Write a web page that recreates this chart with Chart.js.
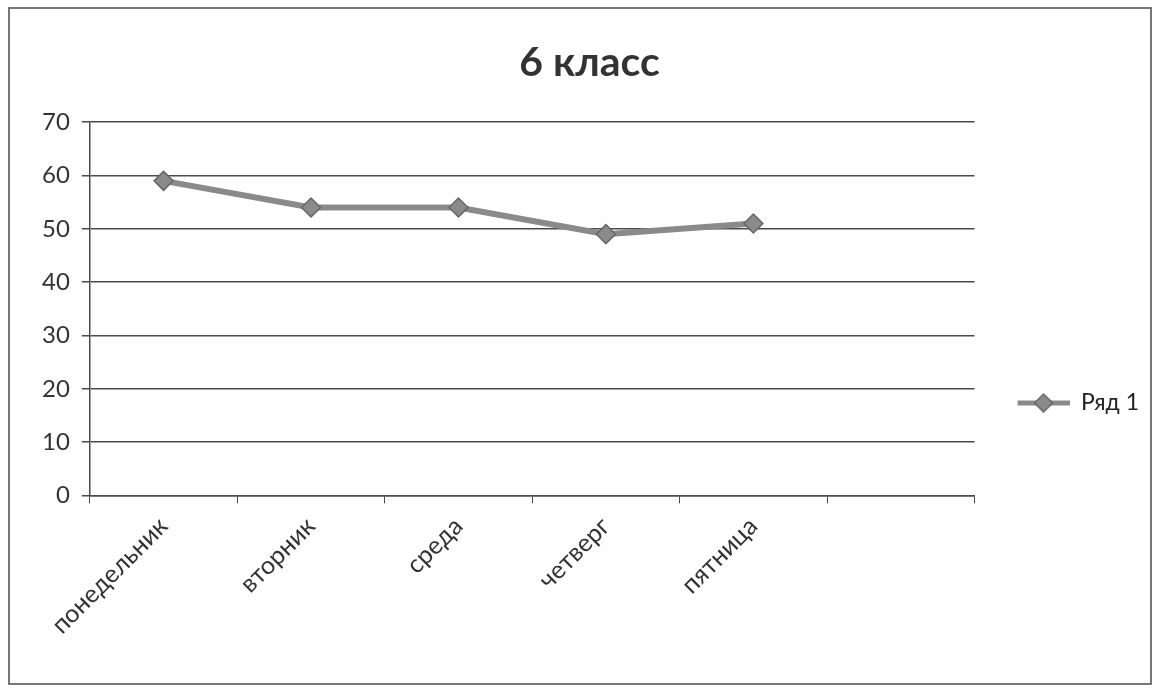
<!DOCTYPE html>
<html>
<head>
<meta charset="utf-8">
<script src="https://cdn.jsdelivr.net/npm/chart.js@4/dist/chart.umd.min.js"></script>
<style>
  body { margin: 0; background: #fff; }
  #wrap { width: 1163px; height: 693px; }
</style>
</head>
<body>
<div id="wrap"><canvas id="myChart" width="1163" height="693"></canvas></div>
<script>
"use strict";
// days of week (sixth slot is empty in the original)
var days = ['понедельник', 'вторник', 'среда', 'четверг', 'пятница', ''];
var row1 = [59, 54, 54, 49, 51, null];
var yTicks = [0, 10, 20, 30, 40, 50, 60, 70];

var FONT = 'Lato, "Open Sans", sans-serif';
var lineGray = '#8a8a8a';
var darkGray = '#4a4a4a';

// legend symbol: line with diamond (blank margin on the left)
function legendSymbol() {
	var m = 33;
	var c = document.createElement('canvas');
	c.width = 52 + m; c.height = 20;
	var g = c.getContext('2d');
	g.strokeStyle = lineGray;
	g.lineWidth = 5;
	g.beginPath(); g.moveTo(m, 10); g.lineTo(m + 52, 10); g.stroke();
	g.fillStyle = lineGray;
	g.strokeStyle = '#666';
	g.lineWidth = 1.5;
	g.beginPath();
	g.moveTo(m + 26, 1); g.lineTo(m + 35, 10); g.lineTo(m + 26, 19); g.lineTo(m + 17, 10); g.closePath();
	g.fill(); g.stroke();
	return c;
}

// outer frame round the whole chart
var framePlugin = {
	id: 'frame',
	beforeDraw: function (chart) {
		var ctx = chart.ctx;
		ctx.save();
		ctx.fillStyle = '#fff';
		ctx.fillRect(0, 0, chart.width, chart.height);
		ctx.strokeStyle = '#777';
		ctx.lineWidth = 2;
		ctx.strokeRect(9, 8, 1142, 676);
		ctx.restore();
	}
};

var sym = legendSymbol();
var ctx = document.getElementById('myChart');
var myChart = new Chart(ctx, {
	type: 'line',
	data: {
		labels: days,
		datasets: [
			{
				label: 'Ряд 1',
				data: row1,
				borderColor: lineGray,
				backgroundColor: lineGray,
				borderWidth: 6,
				pointStyle: 'rectRot',
				pointRadius: 9.5,
				pointBackgroundColor: lineGray,
				pointBorderColor: '#666',
				pointBorderWidth: 1.5,
				tension: 0,
				fill: false
			}
		]
	},
	plugins: [framePlugin],
	options: {
		responsive: false,
		animation: false,
		layout: { padding: { left: 30, right: 14, top: 30, bottom: 45 } },
		plugins: {
			title: {
				display: true,
				text: '6 класс',
				color: '#333',
				font: { family: FONT, size: 41, weight: 'bold' },
				padding: { top: 8, bottom: 35 }
			},
			legend: {
				position: 'right',
				title: { display: true, text: '', font: { size: 10 }, padding: { top: 0, bottom: 116 } },
				labels: {
					usePointStyle: true,
					pointStyleWidth: 85,
					color: '#222',
					font: { family: FONT, size: 23 },
					generateLabels: function (chart) {
						return [{ text: 'Ряд 1', pointStyle: sym, fillStyle: lineGray, strokeStyle: lineGray, fontColor: '#222', lineWidth: 0, datasetIndex: 0 }];
					}
				}
			},
			tooltip: { enabled: false }
		},
		scales: {
			x: {
				offset: true,
				grid: { offset: true, drawOnChartArea: false, drawTicks: true, tickLength: 8, color: darkGray },
				border: { display: true, color: darkGray, width: 1.5 },
				ticks: {
					color: '#333',
					font: { family: FONT, size: 25 },
					minRotation: 45,
					maxRotation: 45,
					padding: 8
				}
			},
			y: {
				min: 0,
				max: 70,
				afterBuildTicks: function (axis) {
					axis.ticks = yTicks.map(function (v) { return { value: v }; });
				},
				grid: { color: darkGray, lineWidth: 1.5, drawTicks: true, tickLength: 8 },
				border: { display: true, color: darkGray, width: 1.5 },
				ticks: {
					color: '#333',
					font: { family: FONT, size: 24 },
					padding: 12
				}
			}
		}
	}
});
</script>
</body>
</html>
